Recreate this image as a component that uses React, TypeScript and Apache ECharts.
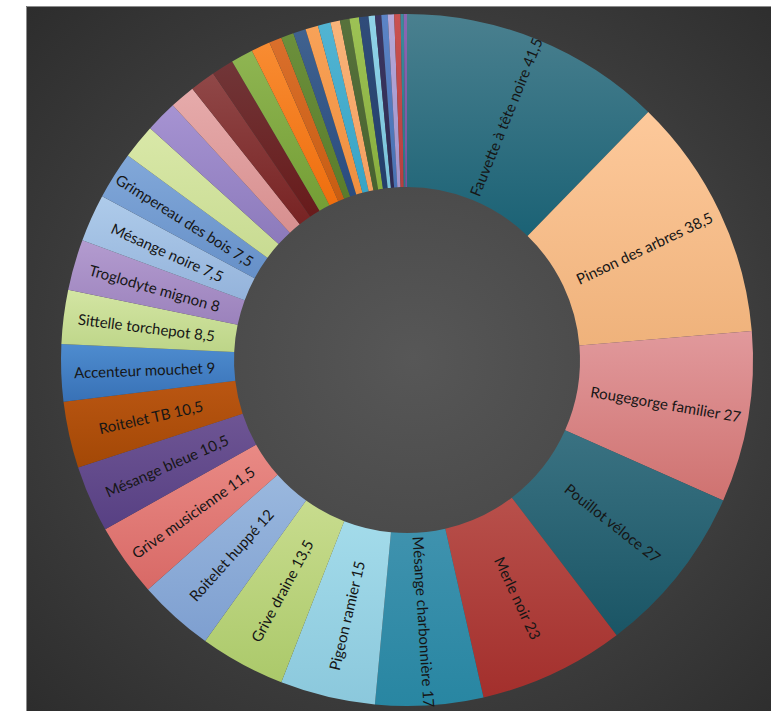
import React, { useEffect, useRef } from "react";
import * as echarts from "echarts";

const speciesNames = [
  "Fauvette à tête noire",
  "Pinson des arbres",
  "Rougegorge familier",
  "Pouillot véloce",
  "Merle noir",
  "Mésange charbonnière",
  "Pigeon ramier",
  "Grive draine",
  "Roitelet huppé",
  "Grive musicienne",
  "Mésange bleue",
  "Roitelet TB",
  "Accenteur mouchet",
  "Sittelle torchepot",
  "Troglodyte mignon",
  "Mésange noire",
  "Grimpereau des bois",
];
const speciesValues = [41.5, 38.5, 27, 27, 23, 17, 15, 13.5, 12, 11.5, 10.5, 10.5, 9, 8.5, 8, 7.5, 7.5];

// small unlabeled slices (no label shown in the chart)
const otherValues = [5.5, 5, 4, 4, 3.5, 3.5, 3, 2, 2, 2, 2, 2, 1.5, 1.5, 1.5, 1.5, 1, 1, 1, 1, 1, 0.5, 0.5];

// [top colour, bottom colour] for each slice, in data order
const sliceColors: [string, string][] = [
  ["#4a808f", "#1b6275"],
  ["#fdc99b", "#efb27b"],
  ["#e1999c", "#cf7270"],
  ["#3a7282", "#1a5565"],
  ["#b8504b", "#a32f2c"],
  ["#3f92ae", "#2886a2"],
  ["#a3dbea", "#8bc8dc"],
  ["#c8dc8e", "#abc96a"],
  ["#9ab8de", "#7e9fd0"],
  ["#e98a85", "#d86966"],
  ["#6e5594", "#574083"],
  ["#ba5612", "#a34806"],
  ["#4e8ccf", "#3871b6"],
  ["#d3e5a3", "#bdd588"],
  ["#b39bcf", "#9b82bc"],
  ["#aecbea", "#94b3db"],
  ["#82a8d9", "#6690c8"],
  ["#d9e8a8", "#c8db92"],
  ["#a693d2", "#8c7abb"],
  ["#e6abab", "#d78f8f"],
  ["#904848", "#782323"],
  ["#713638", "#681b1b"],
  ["#8fb552", "#749e35"],
  ["#f88c32", "#ef6e0e"],
  ["#da6f2c", "#c75d12"],
  ["#6c903c", "#5a7c2b"],
  ["#40628f", "#2a4c7f"],
  ["#f8a258", "#ef8f3f"],
  ["#52b4d2", "#38a4c6"],
  ["#f9b47a", "#f49f5f"],
  ["#57723c", "#48622f"],
  ["#9dc255", "#88ae3e"],
  ["#304c7a", "#243f6b"],
  ["#90d2e8", "#7ac3db"],
  ["#3c3762", "#2e2a52"],
  ["#5c84c6", "#4871b3"],
  ["#b6a8d8", "#a295cb"],
  ["#ca5252", "#b63f3f"],
  ["#3c8c9c", "#287888"],
  ["#8c66b2", "#78539f"],
];

const fmt = (v: number) => String(v).replace(".", ",");

export default function App() {
  const ref = useRef<HTMLDivElement>(null);

  useEffect(() => {
    if (!ref.current) return;
    const chart = echarts.init(ref.current, null, { renderer: "svg" });

    const grad = (i: number) => {
      const c = sliceColors[i % sliceColors.length];
      return new echarts.graphic.LinearGradient(0, 0, 0, 1, [
        { offset: 0, color: c[0] },
        { offset: 1, color: c[1] },
      ]);
    };

    const data: any[] = [];
    speciesNames.forEach((name, i) => {
      data.push({ name, value: speciesValues[i], itemStyle: { color: grad(i) } });
    });
    otherValues.forEach((v, j) => {
      const i = speciesNames.length + j;
      data.push({
        name: "Autre " + (j + 1),
        value: v,
        itemStyle: { color: grad(i) },
        label: { show: false },
      });
    });

    chart.setOption({
      animation: false,
      backgroundColor: "#ffffff",
      graphic: [
        {
          type: "rect",
          z: -10,
          silent: true,
          shape: { x: 26, y: 6, width: 745, height: 705 },
          style: {
            fill: new echarts.graphic.RadialGradient(0.52, 0.5, 0.75, [
              { offset: 0, color: "#575757" },
              { offset: 0.33, color: "#4b4b4b" },
              { offset: 0.66, color: "#3a3a3a" },
              { offset: 1, color: "#2b2b2b" },
            ]),
          },
        },
        {
          type: "polyline",
          z: -9,
          silent: true,
          shape: { points: [[26.5, 711], [26.5, 6.5], [771, 6.5]] },
          style: { stroke: "#8c8c8c", lineWidth: 1, fill: "none" },
        },
      ],
      series: [
        {
          type: "pie",
          center: [407, 360],
          radius: [173, 346],
          startAngle: 90,
          clockwise: true,
          avoidLabelOverlap: false,
          emphasis: { disabled: true },
          itemStyle: { borderWidth: 0 },
          label: {
            show: true,
            position: "inside",
            rotate: "radial",
            color: "#161616",
            fontFamily: "Lato",
            fontSize: 15,
            formatter: (p: any) => `${p.name} ${fmt(p.value)}`,
          },
          labelLine: { show: false },
          data,
        },
      ],
    });

    return () => chart.dispose();
  }, []);

  return (
    <div
      ref={ref}
      style={{ position: "absolute", left: 0, top: 0, width: 771, height: 711 }}
    />
  );
}
